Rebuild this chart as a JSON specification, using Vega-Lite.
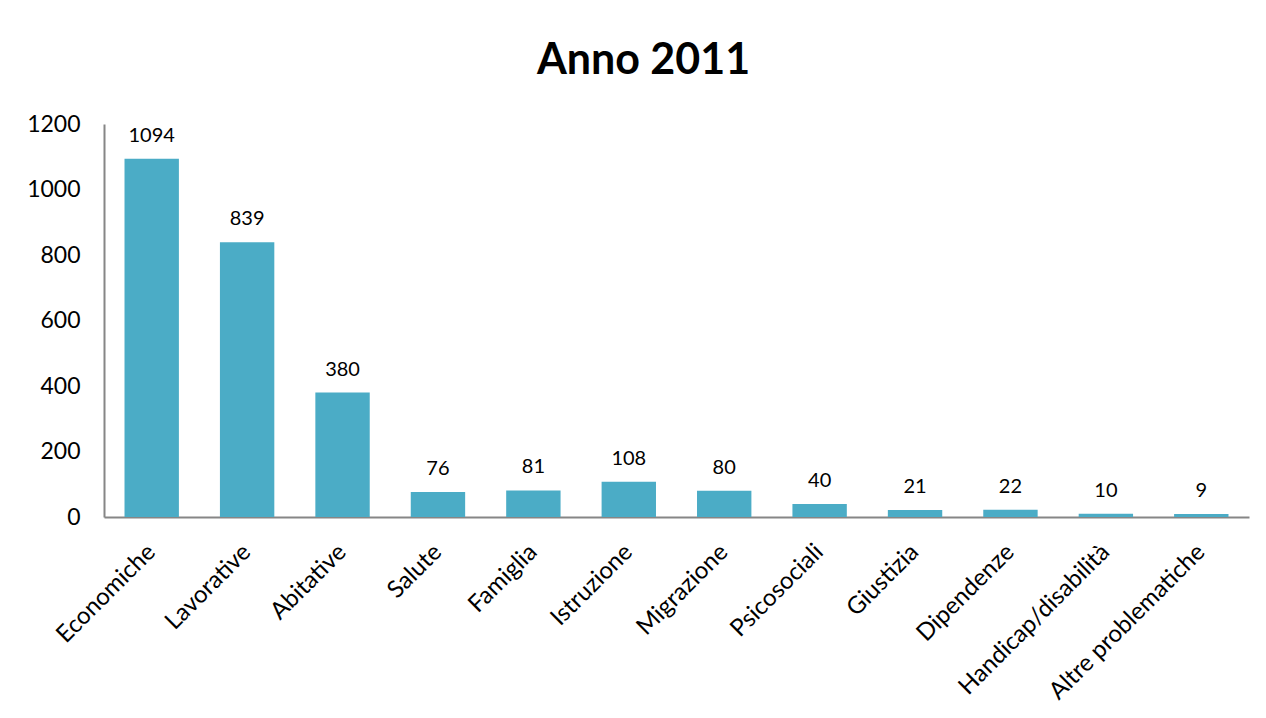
{
  "$schema": "https://vega.github.io/schema/vega-lite/v6.json",
  "autosize": {"type": "none"},
  "width": 1145,
  "height": 393,
  "padding": {"left": 104, "top": 124, "right": 17, "bottom": 201},
  "background": "white",
  "title": {
    "text": "Anno 2011",
    "font": "Lato",
    "fontSize": 43,
    "fontWeight": "bold",
    "color": "black",
    "anchor": "middle",
    "dx": -33,
    "offset": 30
  },
  "data": {
    "values": [
      {"categoria": "Economiche", "valore": 1094},
      {"categoria": "Lavorative", "valore": 839},
      {"categoria": "Abitative", "valore": 380},
      {"categoria": "Salute", "valore": 76},
      {"categoria": "Famiglia", "valore": 81},
      {"categoria": "Istruzione", "valore": 108},
      {"categoria": "Migrazione", "valore": 80},
      {"categoria": "Psicosociali", "valore": 40},
      {"categoria": "Giustizia", "valore": 21},
      {"categoria": "Dipendenze", "valore": 22},
      {"categoria": "Handicap/disabilità", "valore": 10},
      {"categoria": "Altre problematiche", "valore": 9}
    ]
  },
  "encoding": {
    "x": {
      "field": "categoria",
      "type": "nominal",
      "sort": null,
      "scale": {"paddingInner": 0.43, "paddingOuter": 0.215},
      "axis": {
        "title": null,
        "labelAngle": -45,
        "labelAlign": "right",
        "labelBaseline": "middle",
        "labelFont": "Lato",
        "labelFontSize": 24,
        "labelColor": "black",
        "labelPadding": 31,
        "labelLimit": 0,
        "ticks": false,
        "domainColor": "#868686",
        "domainWidth": 2,
        "grid": false
      }
    },
    "y": {
      "field": "valore",
      "type": "quantitative",
      "scale": {"domain": [0, 1200], "nice": false},
      "axis": {
        "title": null,
        "values": [0, 200, 400, 600, 800, 1000, 1200],
        "format": "d",
        "labelFont": "Lato",
        "labelFontSize": 23,
        "labelColor": "black",
        "labelPadding": 24,
        "ticks": false,
        "grid": false,
        "domainColor": "#868686",
        "domainWidth": 2
      }
    }
  },
  "layer": [
    {"mark": {"type": "bar", "color": "#4BACC6"}},
    {
      "mark": {
        "type": "text",
        "font": "Lato",
        "fontSize": 20,
        "color": "black",
        "baseline": "alphabetic",
        "dy": -17
      },
      "encoding": {"text": {"field": "valore", "type": "quantitative"}}
    }
  ],
  "config": {"view": {"stroke": null}}
}
